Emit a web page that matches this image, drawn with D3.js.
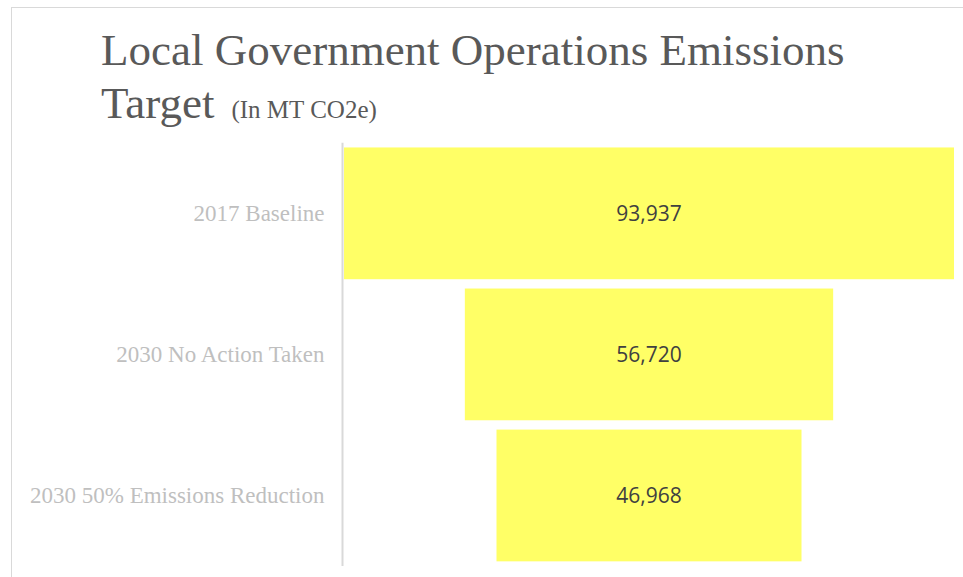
<!DOCTYPE html>
<html>
<head>
<meta charset="utf-8">
<script src="https://cdn.jsdelivr.net/npm/d3@7"></script>
<style>
    body { margin: 0; background: #fff; }
    svg { display: block; }
</style>
</head>
<body>
<div id="chart"></div>
<script>
"use strict";
(function () {
    // chart data
    const categories = ["2017 Baseline", "2030 No Action Taken", "2030 50% Emissions Reduction"]
    const values = [93937, 56720, 46968]

    const measurements = {
        width: 963,
        height: 577,
        center: 649,
        maxBar: 610,
        top: 142.8,
        bottom: 566
    }

    const svg = d3.select("#chart").append("svg")
        .attr("width", measurements.width)
        .attr("height", measurements.height)

    // light frame round the chart (runs off the right and bottom)
    svg.append("rect")
        .attr("x", 11.5)
        .attr("y", 7.5)
        .attr("width", 1000)
        .attr("height", 1000)
        .attr("fill", "none")
        .attr("stroke", "#d9d9d9")

    // title
    const title = svg.append("text")
        .attr("font-family", "'Liberation Serif', serif")
        .attr("fill", "#595959")
    title.append("tspan")
        .attr("x", 101).attr("y", 65)
        .attr("font-size", 45)
        .text("Local Government Operations Emissions")
    title.append("tspan")
        .attr("x", 101).attr("y", 118)
        .attr("font-size", 45)
        .text("Target")
    title.append("tspan")
        .attr("dx", 17)
        .attr("font-size", 25)
        .text("(In MT CO2e)")

    // scales
    const scaleY = d3.scaleBand()
        .domain(categories)
        .range([measurements.top, measurements.bottom])
        .paddingInner(0.066)
        .paddingOuter(0.033)

    const scaleW = d3.scaleLinear()
        .domain([0, d3.max(values)])
        .range([0, measurements.maxBar])

    // funnel bars, centred
    svg.selectAll(".bar")
        .data(values)
        .enter()
        .append("rect")
        .attr("class", "bar")
        .attr("x", (d) => measurements.center - scaleW(d) / 2)
        .attr("y", (d, i) => scaleY(categories[i]))
        .attr("width", (d) => scaleW(d))
        .attr("height", scaleY.bandwidth())
        .attr("fill", "#ffff66")

    // vertical axis with category labels
    const yAxis = d3.axisLeft(scaleY).tickSize(0).tickPadding(18)
    const axisG = svg.append("g")
        .attr("transform", `translate(${measurements.center - measurements.maxBar / 2 - 1.5},0)`)
        .call(yAxis)
    axisG.select(".domain")
        .attr("d", `M0,${measurements.top}V${measurements.bottom}`)
        .attr("stroke", "#d9d9d9")
        .attr("stroke-width", 2)
    axisG.selectAll(".tick text")
        .attr("font-family", "'Liberation Serif', serif")
        .attr("font-size", 23)
        .attr("fill", "#bfbfbf")

    // value labels
    svg.selectAll(".value")
        .data(values)
        .enter()
        .append("text")
        .attr("class", "value")
        .attr("x", measurements.center)
        .attr("y", (d, i) => scaleY(categories[i]) + scaleY.bandwidth() / 2)
        .attr("dy", "0.35em")
        .attr("text-anchor", "middle")
        .attr("font-family", "'Open Sans', sans-serif")
        .attr("font-size", 21)
        .attr("fill", "#404040")
        .text((d) => d3.format(",")(d))
})()
</script>
</body>
</html>
